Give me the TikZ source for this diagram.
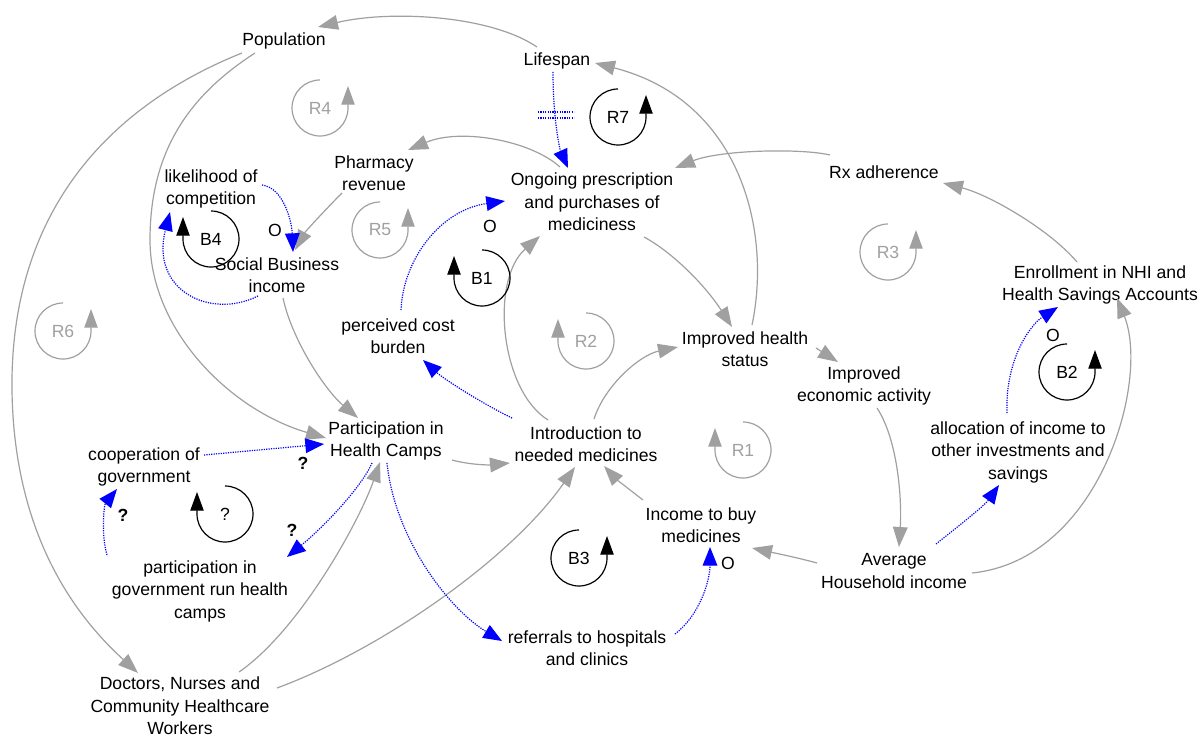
\documentclass[tikz,border=0pt]{standalone}
\usepackage{fontspec}
\setmainfont{Liberation Sans}
\usetikzlibrary{arrows.meta,calc}
\definecolor{lg}{RGB}{160,160,160}
\definecolor{lb}{RGB}{0,0,255}
\tikzset{
  v/.style={align=center, inner sep=0pt, font=\fontsize{13.2}{16.9}\selectfont},
  gl/.style={draw=lg, line width=0.9pt, -{Triangle[length=15pt,width=11pt]}},
  bl/.style={draw=lb, line width=0.9pt, dash pattern=on 0.9pt off 0.9pt, -{Triangle[length=14pt,width=11pt]}},
  hash/.style={draw=lb, line width=0.9pt, dash pattern=on 0.9pt off 0.9pt},
  pol/.style={v},
  qm/.style={v, font=\fontsize{13.2}{16.9}\selectfont\bfseries}
}
\newcommand\myloopccw[5]{%
  \begin{scope}[shift={(#2,#3)},yscale=-1]
    \draw[draw=#5,line width=0.9pt,-{Triangle[length=14pt,width=10pt]}] (90:28) arc[start angle=90,end angle=360,radius=28] -- ++(0,22);
    \node[v,text=#5] (#1) at (0,0) {#4};
  \end{scope}}
\newcommand\myloopcw[5]{%
  \begin{scope}[shift={(#2,#3)},yscale=-1]
    \draw[draw=#5,line width=0.9pt,-{Triangle[length=14pt,width=10pt]}] (90:28) arc[start angle=90,end angle=-180,radius=28] -- ++(0,22);
    \node[v,text=#5] (#1) at (0,0) {#4};
  \end{scope}}
\begin{document}
\begin{tikzpicture}[x=0.75pt,y=-0.75pt]
\useasboundingbox (0,0) rectangle (1201,738);

% ---- variables
\node[v] (pop) at (284,41) {Population};
\node[v] (life) at (557,61) {Lifespan};
\node[v] (pharm) at (374,173) {Pharmacy\\revenue};
\node[v] (lik) at (211,189) {likelihood of\\competition};
\node[v] (ong) at (592,202) {Ongoing prescription\\and purchases of\\mediciness};
\node[v] (sbi) at (277,275) {Social Business\\income};
\node[v] (rx) at (884,172) {Rx adherence};
\node[v] (enr) at (1100,285) {Enrollment in NHI and\\Health Savings Accounts};
\node[v] (pcb) at (398,336) {perceived cost\\burden};
\node[v] (ihs) at (745,349) {Improved health\\status};
\node[v] (iea) at (864,386) {Improved\\economic activity};
\node[v] (phc) at (386,441) {Participation in\\Health Camps};
\node[v] (intro) at (586,444) {Introduction to\\needed medicines};
\node[v] (alloc) at (1018,452) {allocation of income to\\other investments and\\savings};
\node[v] (coop) at (144,467) {cooperation of\\government};
\node[v] (itb) at (701,525) {Income to buy\\medicines};
\node[v] (ahi) at (894,571) {Average\\Household income};
\node[v] (pgov) at (200,591) {participation in\\government run health\\camps};
\node[v] (ref) at (587,648) {referrals to hospitals\\and clinics};
\node[v] (doc) at (180,706) {Doctors, Nurses and\\Community Healthcare\\Workers};

% ---- gray links
\draw[gl] ($(life)+(-20,-14)$) .. controls (490,15) and (390,10) .. ($(pop)+(34,-14)$);
\draw[gl] ($(ihs)+(7,-24)$) .. controls (772,230) and (740,100) .. ($(life)+(38,2)$);
\draw[gl] ($(ong)+(-32,-35)$) .. controls (530,140) and (460,128) .. ($(pharm)+(34,-23)$);
\draw[gl] ($(pharm)+(-32,20)$) .. controls (325,210) and (305,232) .. ($(sbi)+(18,-25)$);
\draw[gl] ($(rx)+(-54,-17)$) .. controls (800,148) and (720,150) .. ($(ong)+(83,-34)$);
\draw[gl] ($(enr)+(-23,-23)$) .. controls (1050,230) and (990,195) .. ($(rx)+(59,11)$);
\draw[gl] ($(ong)+(52,35)$) .. controls (672,252) and (705,285) .. ($(ihs)+(-13,-22)$);
\draw[gl] ($(ihs)+(71,-1)$) -- ($(iea)+(-26,-24)$);
\draw[gl] ($(iea)+(13,22)$) .. controls (898,440) and (902,500) .. ($(ahi)+(5,-24)$);
\draw[gl] ($(ahi)+(-77,-8)$) .. controls (795,557) and (770,552) .. ($(itb)+(51,23)$);
\draw[gl] ($(itb)+(-58,-25)$) .. controls (630,490) and (615,478) .. ($(intro)+(18,22)$);
\draw[gl] ($(doc)+(97,-18)$) .. controls (380,650) and (510,560) .. ($(intro)+(-11,23)$);
\draw[gl] ($(phc)+(66,19)$) .. controls (470,465) and (490,465) .. ($(intro)+(-76,19)$);
\draw[gl] ($(intro)+(-38,-24)$) .. controls (500,390) and (490,280) .. ($(ong)+(-52,34)$);
\draw[gl] ($(intro)+(8,-25)$) .. controls (605,385) and (640,355) .. ($(ihs)+(-67,-2)$);
\draw[gl] ($(ahi)+(78,2)$) .. controls (1100,560) and (1150,380) .. ($(enr)+(17,13)$);
\draw[gl] ($(pop)+(-42,12)$) .. controls (100,110) and (10,220) .. (12,390) .. controls (14,540) and (80,620) .. ($(doc)+(-42,-33)$);
\draw[gl] ($(pop)+(-29,12)$) .. controls (190,95) and (150,150) .. (150,240) .. controls (150,330) and (230,410) .. ($(phc)+(-60,-3)$);
\draw[gl] ($(sbi)+(6,23)$) .. controls (292,340) and (325,390) .. ($(phc)+(-28,-23)$);
\draw[gl] ($(doc)+(59,-34)$) .. controls (300,630) and (360,520) .. ($(phc)+(-6,21)$);

% ---- blue links
\draw[bl] ($(life)+(-4,11)$) .. controls (553,120) and (560,150) .. ($(ong)+(-24,-34)$);
\draw[hash] ($(life)+(-19,51)$) -- ($(life)+(17,51)$);
\draw[hash] ($(life)+(-19,57)$) -- ($(life)+(17,57)$);
\draw[bl] ($(lik)+(51,-4)$) .. controls (285,188) and (292,225) .. ($(sbi)+(16,-23)$);
\draw[bl] ($(sbi)+(-19,21)$) .. controls (210,320) and (150,290) .. ($(lik)+(-41,23)$);
\draw[bl] ($(pcb)+(3,-26)$) .. controls (403,260) and (440,210) .. ($(ong)+(-87,-1)$);
\draw[bl] ($(intro)+(-74,-26)$) .. controls (485,405) and (445,380) .. ($(pcb)+(25,24)$);
\draw[bl] ($(coop)+(60,-12)$) -- ($(phc)+(-62,3)$);
\draw[bl] ($(pgov)+(-93,-36)$) .. controls (101,535) and (104,505) .. ($(coop)+(-27,22)$);
\draw[bl] ($(phc)+(-14,22)$) .. controls (360,490) and (320,530) .. ($(pgov)+(87,-34)$);
\draw[bl] ($(phc)+(1,22)$) .. controls (395,540) and (450,610) .. ($(ref)+(-85,-7)$);
\draw[bl] ($(ref)+(88,-14)$) .. controls (700,615) and (710,580) .. ($(itb)+(9,22)$);
\draw[bl] ($(ahi)+(42,-27)$) .. controls (960,525) and (985,505) .. ($(alloc)+(-19,33)$);
\draw[bl] ($(alloc)+(-11,-39)$) .. controls (1005,360) and (1030,325) .. ($(enr)+(-42,22)$);

% ---- polarity marks
\node[pol] (o1) at (275,230) {O};
\node[pol] (o2) at (490,226) {O};
\node[pol] (o3) at (728,563) {O};
\node[pol] (o4) at (1053,335) {O};
\node[qm] (q1) at (303,463) {?};
\node[qm] (q2) at (123,515) {?};
\node[qm] (q3) at (292,530) {?};

% ---- loop markers
\myloopccw{lR4}{320}{108}{R4}{lg}
\myloopccw{lR7}{618}{117}{R7}{black}
\myloopccw{lR5}{380}{230}{R5}{lg}
\myloopcw{lB4}{211}{239}{B4}{black}
\myloopcw{lB1}{482}{278}{B1}{black}
\myloopcw{lR2}{586}{341}{R2}{lg}
\myloopccw{lR3}{888}{252}{R3}{lg}
\myloopccw{lB2}{1067}{372}{B2}{black}
\myloopccw{lR6}{63}{331}{R6}{lg}
\myloopcw{lQ}{225}{514}{?}{black}
\myloopcw{lR1}{743}{450}{R1}{lg}
\myloopccw{lB3}{579}{558}{B3}{black}
\end{tikzpicture}
\end{document}
